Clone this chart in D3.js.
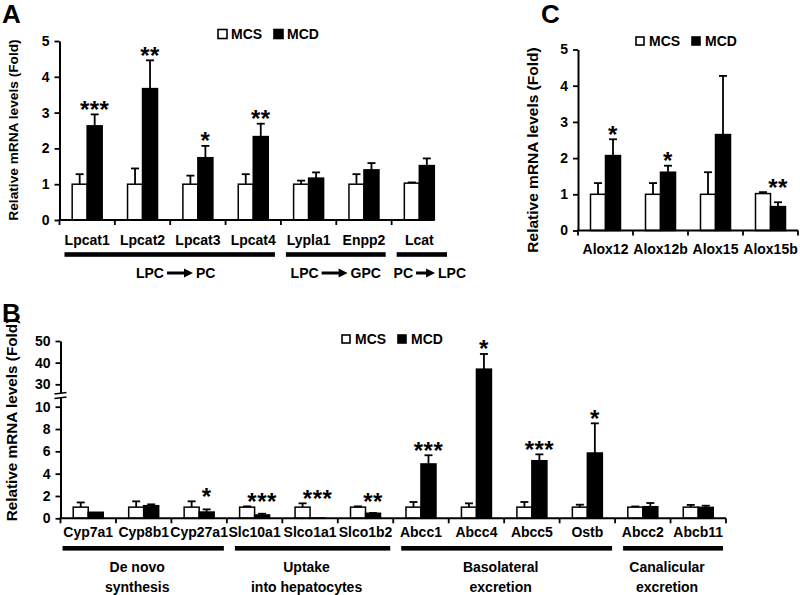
<!DOCTYPE html>
<html><head><meta charset="utf-8">
<script src="https://cdn.jsdelivr.net/npm/d3@7"></script>
<style>
body{margin:0;background:#fff}
text{font-family:"Liberation Sans",Arial,sans-serif;font-weight:bold;fill:#000}
</style>
</head><body><svg id="c" width="800" height="595"></svg>
<script>
const seriesNames = ["MCS", "MCD"];

// Panel A
const genesA = ["Lpcat1","Lpcat2","Lpcat3","Lpcat4","Lypla1","Enpp2","Lcat"];
const mcsA    = [1, 1, 1, 1, 1, 1, 1.03];
const mcsErrA = [0.28, 0.44, 0.24, 0.28, 0.10, 0.28, 0.02];
const mcdA    = [2.63, 3.67, 1.74, 2.33, 1.17, 1.40, 1.52];
const mcdErrA = [0.32, 0.79, 0.33, 0.36, 0.16, 0.19, 0.20];
const sigA    = ["***", "**", "*", "**", "", "", ""];
const ticksA  = [0, 1, 2, 3, 4, 5];
const groupsA = [
  {from: "LPC", to: "PC",  first: 0, last: 3},
  {from: "LPC", to: "GPC", first: 4, last: 5},
  {from: "PC",  to: "LPC", first: 6, last: 6}
];

// Panel B
const genesB = ["Cyp7a1","Cyp8b1","Cyp27a1","Slc10a1","Slco1a1","Slco1b2","Abcc1","Abcc4","Abcc5","Ostb","Abcc2","Abcb11"];
const mcsB    = [1, 1, 1, 1, 1, 1, 1, 1, 1, 1, 1, 1];
const mcsErrB = [0.42, 0.52, 0.52, 0.07, 0.34, 0.07, 0.46, 0.34, 0.46, 0.22, 0.06, 0.2];
const mcdB    = [0.54, 1.13, 0.56, 0.30, 0.02, 0.45, 4.87, 37.0, 5.16, 5.85, 1.04, 0.98];
const mcdErrB = [0, 0.12, 0.24, 0.11, 0, 0.03, 0.78, 7.0, 0.57, 2.66, 0.33, 0.15];
const sigB    = ["", "", "*", "***", "***", "**", "***", "*", "***", "*", "", ""];
const ticksB  = [0, 2, 4, 6, 8, 10, 30, 40, 50];
const groupsB = [
  {lines: ["De novo", "synthesis"], first: 0, last: 2},
  {lines: ["Uptake", "into hepatocytes"], first: 3, last: 5},
  {lines: ["Basolateral", "excretion"], first: 6, last: 9},
  {lines: ["Canalicular", "excretion"], first: 10, last: 11}
];

// Panel C
const genesC = ["Alox12","Alox12b","Alox15","Alox15b"];
const mcsC    = [1, 1, 1, 1.02];
const mcsErrC = [0.31, 0.31, 0.61, 0.04];
const mcdC    = [2.07, 1.61, 2.65, 0.66];
const mcdErrC = [0.45, 0.18, 1.62, 0.12];
const sigC    = ["*", "*", "", "**"];
const ticksC  = [0, 1, 2, 3, 4, 5];

const yTitle = "Relative mRNA levels (Fold)";
const svg = d3.select("#c");

function panel(cfg) {
  const g = svg.append("g");
  const x = d3.scaleBand().domain(cfg.genes).range([cfg.x0, cfg.x1]).padding(0);
  const y = cfg.y;
  const xs = d3.scaleBand().domain(seriesNames).range([-15, 15]).padding(0);
  const y0 = y(0);
  const cx = (gname) => x(gname) + x.bandwidth() / 2;

  const rows = cfg.genes.flatMap((gname, i) => [
    {gene: gname, s: "MCS", v: cfg.mcs[i], e: cfg.mcsErr[i]},
    {gene: gname, s: "MCD", v: cfg.mcd[i], e: cfg.mcdErr[i]}
  ]);

  // error bars
  const eb = g.append("g").attr("stroke", "#000").attr("stroke-width", 1.8);
  rows.filter(d => d.e > 0).forEach(d => {
    const bx = cx(d.gene) + xs(d.s) + xs.bandwidth() / 2;
    eb.append("line").attr("x1", bx).attr("x2", bx).attr("y1", y(d.v)).attr("y2", y(d.v + d.e));
    eb.append("line").attr("x1", bx - 4).attr("x2", bx + 4).attr("y1", y(d.v + d.e)).attr("y2", y(d.v + d.e));
  });

  // bars
  g.append("g").selectAll("rect").data(rows).join("rect")
    .attr("x", d => cx(d.gene) + xs(d.s))
    .attr("width", xs.bandwidth())
    .attr("y", d => y(d.v))
    .attr("height", d => Math.max(0, y0 - y(d.v)))
    .attr("fill", d => d.s === "MCS" ? "#fff" : "#000")
    .attr("stroke", "#000").attr("stroke-width", 1.5);

  // significance stars
  g.append("g").selectAll("text").data(cfg.genes.map((gname, i) => ({gname, i})).filter(d => cfg.sig[d.i]))
    .join("text")
    .attr("x", d => cx(d.gname) + xs("MCD") + xs.bandwidth() / 2)
    .attr("y", d => y(Math.max(cfg.mcs[d.i] + cfg.mcsErr[d.i], cfg.mcd[d.i] + cfg.mcdErr[d.i])) + 3.5)
    .attr("text-anchor", "middle")
    .style("font-size", "24px").style("letter-spacing", "0.5px")
    .text(d => cfg.sig[d.i]);

  // y axis
  const ax = g.append("g").attr("transform", `translate(${cfg.x0},0)`)
    .call(d3.axisLeft(y).tickValues(cfg.ticks).tickSize(5).tickSizeOuter(0).tickPadding(5).tickFormat(d3.format("d")));
  ax.select(".domain").attr("stroke-width", 2);
  ax.selectAll(".tick line").attr("stroke-width", 1.8);
  ax.selectAll(".tick text").style("font-size", "14px").style("font-family", "'Liberation Sans',Arial,sans-serif").style("font-weight", "bold");

  // x axis
  const xa = g.append("g").attr("stroke", "#000");
  xa.append("line").attr("x1", cfg.x0 - 1).attr("x2", cfg.axisEnd).attr("y1", y0).attr("y2", y0).attr("stroke-width", 2);
  cfg.genes.forEach(gname => {
    const bx = x(gname);
    xa.append("line").attr("x1", bx).attr("x2", bx).attr("y1", y0).attr("y2", y0 + 5).attr("stroke-width", 1.8);
  });
  if (cfg.axisEnd >= cfg.x1 - 0.5) {
    xa.append("line").attr("x1", cfg.x1).attr("x2", cfg.x1).attr("y1", y0).attr("y2", y0 + 5).attr("stroke-width", 1.8);
  }
  g.append("g").selectAll("text").data(cfg.genes).join("text")
    .attr("x", d => cx(d)).attr("y", y0 + cfg.labelDy)
    .attr("text-anchor", "middle").style("font-size", "14px")
    .text(d => d);

  // y title
  g.append("text")
    .attr("transform", `translate(${cfg.titleX},${cfg.titleY}) rotate(-90)`)
    .attr("text-anchor", "middle").style("font-size", cfg.titleSize + "px")
    .text(yTitle);

  // legend
  const lg = g.append("g").attr("transform", `translate(${cfg.legend[0]},${cfg.legend[1]})`);
  const sq = cfg.legendSq;
  [[0, 13, "MCS", "#fff"], [56, 69, "MCD", "#000"]].forEach(([sx, tx, label, fill]) => {
    lg.append("rect").attr("x", sx).attr("y", -sq / 2).attr("width", sq).attr("height", sq)
      .attr("fill", fill).attr("stroke", "#000").attr("stroke-width", 1.6);
    lg.append("text").attr("x", tx).attr("y", 5).style("font-size", "14px").text(label);
  });

  // panel letter
  g.append("text").attr("x", cfg.letterPos[0]).attr("y", cfg.letterPos[1])
    .style("font-size", "26px").text(cfg.letter);

  return {g, x, y};
}

// ---------- Panel A ----------
const A = panel({
  genes: genesA, mcs: mcsA, mcsErr: mcsErrA, mcd: mcdA, mcdErr: mcdErrA, sig: sigA, ticks: ticksA,
  x0: 59.5, x1: 447, axisEnd: 434,
  y: d3.scaleLinear().domain([0, 5]).range([220, 41]),
  labelDy: 25, titleX: 18, titleY: 130, titleSize: 13.7,
  legend: [218, 34], legendSq: 9, letter: "A", letterPos: [2, 23]
});
{
  const step = A.x.step();
  const ulY = 254.5;
  groupsA.forEach(gr => {
    const xa = A.x(genesA[gr.first]) + 5, xb = A.x(genesA[gr.last]) + step - (gr.last === genesA.length - 1 ? 0 : 6);
    A.g.append("rect").attr("x", xa).attr("y", ulY - 2.3).attr("width", xb - xa).attr("height", 4.6).attr("fill", "#000");
    const gl = A.g.append("g");
    const t1 = gl.append("text").attr("y", 278).style("font-size", "14px").text(gr.from);
    const w1 = t1.node().getComputedTextLength();
    const t2 = gl.append("text").attr("y", 278).style("font-size", "14px").text(gr.to);
    const w2 = t2.node().getComputedTextLength();
    const arr = gr.first === gr.last ? 19 : 26, gap = 3;
    const total = w1 + gap + arr + gap + w2;
    const start = (xa + xb) / 2 - total / 2 + (gr.first === gr.last ? 8 : gr.first === 0 ? 6 : 0);
    t1.attr("x", start);
    const ax0 = start + w1 + gap, ax1 = ax0 + arr, ay = 273;
    gl.append("line").attr("x1", ax0).attr("x2", ax1 - 7).attr("y1", ay).attr("y2", ay).attr("stroke", "#000").attr("stroke-width", 3);
    gl.append("path").attr("d", `M${ax1 - 9},${ay - 4.5}L${ax1},${ay}L${ax1 - 9},${ay + 4.5}Z`).attr("fill", "#000");
    t2.attr("x", ax1 + gap);
  });
}

// ---------- Panel B ----------
const B = panel({
  genes: genesB, mcs: mcsB, mcsErr: mcsErrB, mcd: mcdB, mcdErr: mcdErrB, sig: sigB, ticks: ticksB,
  x0: 60.5, x1: 726, axisEnd: 726,
  y: d3.scaleLinear().domain([0, 10, 30, 50]).range([518.3, 406.7, 384.3, 341]),
  labelDy: 19, titleX: 17, titleY: 420, titleSize: 15.3,
  legend: [342, 339], legendSq: 8, letter: "B", letterPos: [2, 322]
});
{
  // axis break
  const by = B.y(20);
  B.g.append("rect").attr("x", 57).attr("y", by - 2.2).attr("width", 7).attr("height", 4.4).attr("fill", "#fff");
  [-2.2, 2.2].forEach(o => {
    B.g.append("line").attr("x1", 54.5).attr("x2", 66.5).attr("y1", by + o + 0.8).attr("y2", by + o - 0.8)
      .attr("stroke", "#000").attr("stroke-width", 1.5);
  });
  const step = B.x.step();
  const ulY = 548.3;
  groupsB.forEach(gr => {
    const xa = B.x(genesB[gr.first]) + (gr.first === 0 ? 2 : 8), xb = B.x(genesB[gr.last]) + step - 3;
    B.g.append("rect").attr("x", xa).attr("y", ulY - 2.3).attr("width", xb - xa).attr("height", 4.6).attr("fill", "#000");
    gr.lines.forEach((ln, k) => {
      B.g.append("text").attr("x", (xa + xb) / 2 - 6).attr("y", 572 + k * 20)
        .attr("text-anchor", "middle").style("font-size", "14px").text(ln);
    });
  });
}

// ---------- Panel C ----------
panel({
  genes: genesC, mcs: mcsC, mcsErr: mcsErrC, mcd: mcdC, mcdErr: mcdErrC, sig: sigC, ticks: ticksC,
  x0: 578, x1: 798, axisEnd: 798,
  y: d3.scaleLinear().domain([0, 5]).range([230.5, 49.5]),
  labelDy: 23, titleX: 538, titleY: 150, titleSize: 15.5,
  legend: [636, 41], legendSq: 8, letter: "C", letterPos: [541, 23]
});
</script>
</body></html>
